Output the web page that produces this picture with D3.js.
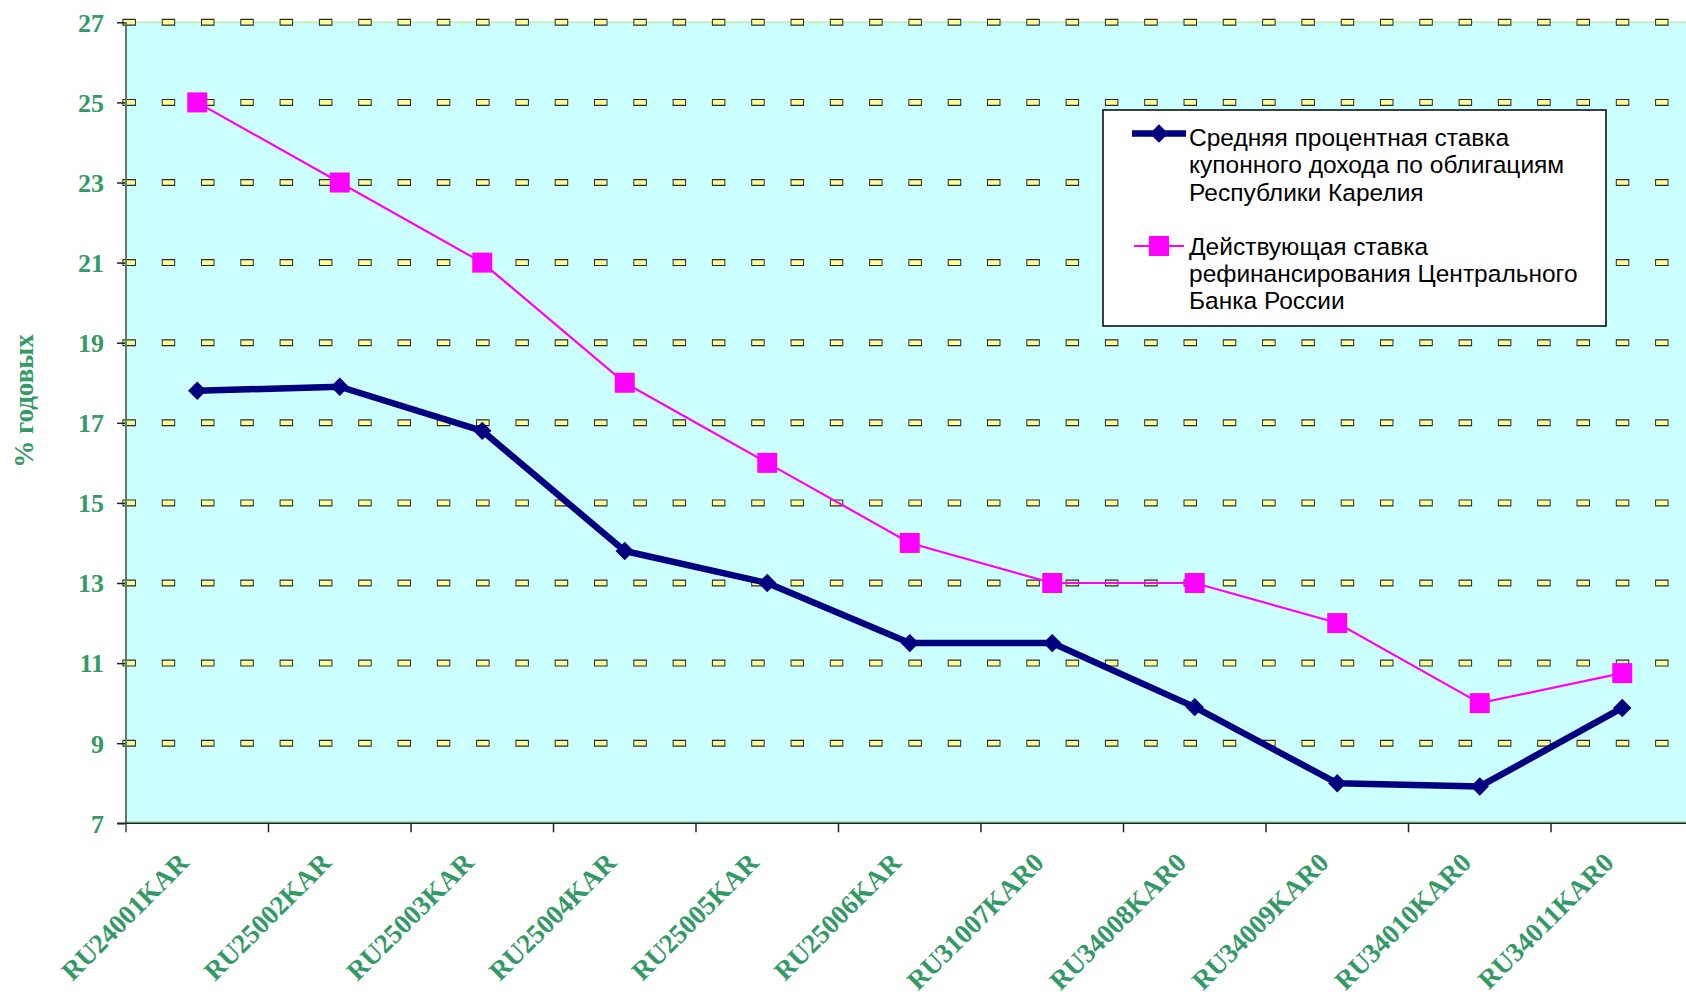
<!DOCTYPE html>
<html>
<head>
<meta charset="utf-8">
<script src="https://cdn.jsdelivr.net/npm/d3@7"></script>
<style>
  body { margin: 0; background: #fff; }
  svg { display: block; }
</style>
</head>
<body>
<script>
// bond issues along the x axis
const categories = ["RU24001KAR", "RU25002KAR", "RU25003KAR", "RU25004KAR", "RU25005KAR", "RU25006KAR",
                    "RU31007KAR0", "RU34008KAR0", "RU34009KAR0", "RU34010KAR0", "RU34011KAR0"];
// average coupon rate, Republic of Karelia bonds
const couponRate = [17.8, 17.9, 16.8, 13.8, 13.0, 11.5, 11.5, 9.9, 8.0, 7.92, 9.88];
// CBR refinancing rate
const refiRate = [25, 23, 21, 18, 16, 14, 13, 13, 12, 10, 10.75];
const yTicks = [7, 9, 11, 13, 15, 17, 19, 21, 23, 25, 27];
const legendCoupon = ["Средняя процентная ставка", "купонного дохода по облигациям", "Республики Карелия"];
const legendRefi = ["Действующая ставка", "рефинансирования Центрального", "Банка России"];

const width = 1686, height = 995;
const plot = { left: 126, right: 1693.5, top: 22.3, bottom: 823.3 };
const green = "#339966";

let svg = d3.select("body").append("svg")
    .attr("width", width)
    .attr("height", height);

svg.append("rect").attr("width", width).attr("height", height).attr("fill", "#fff");

const x = d3.scaleBand().domain(categories).range([plot.left, plot.right]);
const y = d3.scaleLinear().domain([7, 27]).range([plot.bottom, plot.top]);
const cx = d => x(d) + x.bandwidth() / 2;

// plot area
svg.append("rect")
    .attr("x", plot.left).attr("y", plot.top)
    .attr("width", plot.right - plot.left).attr("height", plot.bottom - plot.top)
    .attr("fill", "#ccffff");
svg.append("line")
    .attr("x1", plot.left).attr("x2", plot.right)
    .attr("y1", plot.top).attr("y2", plot.top)
    .attr("stroke", "#bff2bf").attr("stroke-width", 2);
svg.append("line")
    .attr("x1", plot.left).attr("x2", plot.right)
    .attr("y1", plot.bottom - 1.5).attr("y2", plot.bottom - 1.5)
    .attr("stroke", "#a8e0b0").attr("stroke-width", 1.5);

// dashed grid: dark outline, then yellow fill
let grid = svg.append("g").attr("id", "grid");
const gridVals = yTicks.filter(v => v > 7);
grid.selectAll(".gout").data(gridVals).enter().append("line")
    .attr("x1", 122.4).attr("x2", plot.right)
    .attr("y1", d => y(d)).attr("y2", d => y(d))
    .attr("stroke", "#2a2a2a").attr("stroke-width", 7)
    .attr("stroke-dasharray", "13.5 25.8");
grid.selectAll(".gin").data(gridVals).enter().append("line")
    .attr("x1", 123.4).attr("x2", plot.right)
    .attr("y1", d => y(d)).attr("y2", d => y(d))
    .attr("stroke", "#ffff99").attr("stroke-width", 4.6)
    .attr("stroke-dasharray", "11.5 27.8");

// axes
let yAxis = svg.append("g")
    .attr("transform", `translate(${plot.left},0)`)
    .call(d3.axisLeft(y).tickValues(yTicks).tickSize(9).tickPadding(13));
yAxis.select(".domain").remove();
yAxis.selectAll(".tick line").attr("stroke", "#222").attr("stroke-width", 1.5);
yAxis.selectAll(".tick text")
    .attr("fill", green)
    .attr("font-family", "'Liberation Serif', 'Times New Roman', serif")
    .attr("font-weight", "bold")
    .attr("font-size", 26)
    .attr("dy", "0.34em");

svg.append("line")
    .attr("x1", plot.left).attr("x2", plot.left)
    .attr("y1", plot.top).attr("y2", plot.bottom + 9)
    .attr("stroke", "#667766").attr("stroke-width", 2);
svg.append("line")
    .attr("x1", plot.left - 9).attr("x2", plot.right)
    .attr("y1", plot.bottom).attr("y2", plot.bottom)
    .attr("stroke", "#1a2a1a").attr("stroke-width", 1.5);

let xAxis = svg.append("g");
xAxis.selectAll("line").data(categories.slice(1)).enter().append("line")
    .attr("x1", d => x(d)).attr("x2", d => x(d))
    .attr("y1", plot.bottom).attr("y2", plot.bottom + 9)
    .attr("stroke", "#222").attr("stroke-width", 1.5);
xAxis.selectAll("text").data(categories).enter().append("text")
    .attr("transform", d => `translate(${cx(d) - 7},${plot.bottom + 41}) rotate(-45)`)
    .attr("text-anchor", "end")
    .attr("fill", green)
    .attr("font-family", "'Liberation Serif', 'Times New Roman', serif")
    .attr("font-weight", "bold")
    .attr("font-size", 27)
    .text(d => d);

svg.append("text")
    .attr("transform", "translate(33,401) rotate(-90)")
    .attr("text-anchor", "middle")
    .attr("fill", green)
    .attr("font-family", "'Liberation Serif', 'Times New Roman', serif")
    .attr("font-weight", "bold")
    .attr("font-size", 27)
    .text("% годовых");

// series
const line = d3.line().x((d, i) => cx(categories[i])).y(d => y(d));

svg.append("path").datum(refiRate)
    .attr("d", line).attr("fill", "none")
    .attr("stroke", "#ff00ff").attr("stroke-width", 2.2);
svg.append("g").selectAll("rect").data(refiRate).enter().append("rect")
    .attr("x", (d, i) => cx(categories[i]) - 10)
    .attr("y", d => y(d) - 10)
    .attr("width", 20).attr("height", 20)
    .attr("fill", "#ff00ff");

svg.append("path").datum(couponRate)
    .attr("d", line).attr("fill", "none")
    .attr("stroke", "#000080").attr("stroke-width", 6.5)
    .attr("stroke-linejoin", "round");
const diamond = d3.symbol().type(d3.symbolDiamond2).size(215);
svg.append("g").selectAll("path").data(couponRate).enter().append("path")
    .attr("transform", (d, i) => `translate(${cx(categories[i])},${y(d)})`)
    .attr("d", diamond)
    .attr("fill", "#000080");

// legend
let legend = svg.append("g").attr("id", "legend");
legend.append("rect")
    .attr("x", 1103).attr("y", 110).attr("width", 503).attr("height", 216)
    .attr("fill", "#fff").attr("stroke", "#000").attr("stroke-width", 1.5);

legend.append("line")
    .attr("x1", 1132).attr("x2", 1186).attr("y1", 133.5).attr("y2", 133.5)
    .attr("stroke", "#000080").attr("stroke-width", 6.5);
legend.append("path")
    .attr("transform", "translate(1159,133.5)")
    .attr("d", diamond).attr("fill", "#000080");
legend.append("line")
    .attr("x1", 1134).attr("x2", 1184).attr("y1", 246).attr("y2", 246)
    .attr("stroke", "#ff00ff").attr("stroke-width", 2.2);
legend.append("rect")
    .attr("x", 1149).attr("y", 236).attr("width", 20).attr("height", 20)
    .attr("fill", "#ff00ff");

function legendText(lines, top) {
    legend.append("g").selectAll("text").data(lines).enter().append("text")
        .attr("x", 1189)
        .attr("y", (d, i) => top + i * 27.4)
        .attr("fill", "#000")
        .attr("font-family", "'Liberation Sans', Arial, sans-serif")
        .attr("font-size", 24.5)
        .text(d => d);
}
legendText(legendCoupon, 146);
legendText(legendRefi, 254.5);
</script>
</body>
</html>
